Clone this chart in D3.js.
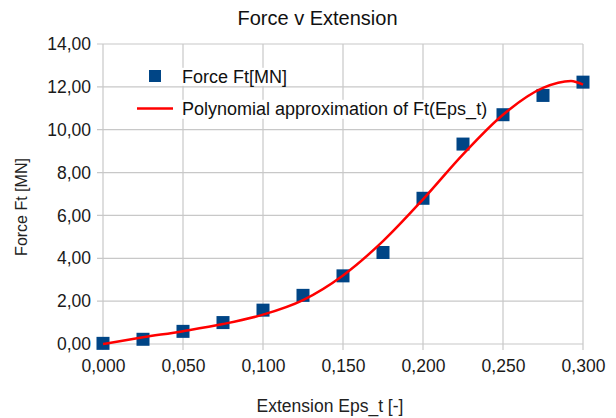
<!DOCTYPE html>
<html>
<head>
<meta charset="utf-8">
<script src="https://cdn.jsdelivr.net/npm/d3@7"></script>
<style>
  body { margin: 0; background: #fff; }
  svg { font-family: "Liberation Sans", Arial, sans-serif; }
</style>
</head>
<body>
<div id="chart"></div>
<script>
// measured points
const extension = [0, 0.025, 0.05, 0.075, 0.1, 0.125, 0.15, 0.175, 0.2, 0.225, 0.25, 0.275, 0.3];
const force = [0.03, 0.22, 0.59, 1.0, 1.58, 2.27, 3.18, 4.27, 6.8, 9.33, 10.7, 11.6, 12.22];

// polynomial trend line
const fitX = [0, 0.025, 0.05, 0.075, 0.1, 0.125, 0.15, 0.175, 0.2, 0.225, 0.25, 0.275, 0.2925, 0.3];
const fitY = [0, 0.31, 0.6, 0.93, 1.37, 2.05, 3.2, 4.8, 6.75, 8.85, 10.7, 11.95, 12.27, 12.1];

const xTicks = [0, 0.05, 0.1, 0.15, 0.2, 0.25, 0.3];
const yTicks = [0, 2, 4, 6, 8, 10, 12, 14];

const w = 616;
const h = 418;
const plotLeft = 103, plotRight = 583, plotTop = 44, plotBottom = 344;

const comma = (f) => (d) => d3.format(f)(d).replace(".", ",");

const xScale = d3.scaleLinear().domain([0, 0.3]).range([plotLeft, plotRight]);
const yScale = d3.scaleLinear().domain([0, 14]).range([plotBottom, plotTop]);

const svg = d3.select("#chart").append("svg").attr("width", w).attr("height", h);

// grid
svg.append("g")
  .selectAll("line")
  .data(yTicks)
  .enter()
  .append("line")
  .attr("x1", plotLeft - 6)
  .attr("x2", plotRight)
  .attr("y1", (d) => yScale(d))
  .attr("y2", (d) => yScale(d))
  .attr("stroke", "#c8c8c8")
  .attr("stroke-width", 1.2);

svg.append("g")
  .selectAll("line")
  .data(xTicks)
  .enter()
  .append("line")
  .attr("x1", (d) => xScale(d))
  .attr("x2", (d) => xScale(d))
  .attr("y1", plotTop)
  .attr("y2", plotBottom + 6)
  .attr("stroke", "#c8c8c8")
  .attr("stroke-width", 1.2);

// axes (labels only, lines drawn as grid)
const xAxis = d3.axisBottom(xScale).tickValues(xTicks).tickFormat(comma(".3f")).tickSize(0).tickPadding(16);
const yAxis = d3.axisLeft(yScale).tickValues(yTicks).tickFormat(comma(".2f")).tickSize(0).tickPadding(12);

const gx = svg.append("g").attr("transform", "translate(0," + plotBottom + ")").call(xAxis);
const gy = svg.append("g").attr("transform", "translate(" + plotLeft + ",0)").call(yAxis);
[gx, gy].forEach((g) => {
  g.select(".domain").remove();
  g.selectAll("text").attr("font-size", 17.5).attr("fill", "#1a1a1a").attr("font-family", "Liberation Sans, Arial, sans-serif");
});

// legend
const legend = svg.append("g");
const legendRows = [
  { label: "Force Ft[MN]", y: 76.5 },
  { label: "Polynomial approximation of Ft(Eps_t)", y: 108.5 },
];
legendRows.forEach((r) => {
  const t = legend.append("text")
    .attr("x", 182)
    .attr("y", r.y)
    .attr("dy", "0.35em")
    .attr("font-size", 18)
    .attr("fill", "#111")
    .text(r.label);
  const bb = t.node().getBBox();
  legend.insert("rect", "text")
    .attr("x", bb.x - 2)
    .attr("y", bb.y + 1)
    .attr("width", bb.width + 4)
    .attr("height", bb.height - 2)
    .attr("fill", "#fff");
});
legend.append("rect")
  .attr("x", 149).attr("y", 70).attr("width", 12).attr("height", 12)
  .attr("fill", "#004586");
legend.append("line")
  .attr("x1", 137).attr("x2", 173).attr("y1", 108.5).attr("y2", 108.5)
  .attr("stroke", "#ff0000").attr("stroke-width", 2.5);

// trend line
const line = d3.line()
  .x((d, i) => xScale(fitX[i]))
  .y((d) => yScale(d))
  .curve(d3.curveMonotoneX);

// markers
svg.append("g")
  .selectAll("rect")
  .data(force)
  .enter()
  .append("rect")
  .attr("x", (d, i) => xScale(extension[i]) - 6.5)
  .attr("y", (d) => yScale(d) - 6.5)
  .attr("width", 13)
  .attr("height", 13)
  .attr("fill", "#004586");

svg.append("path")
  .datum(fitY)
  .attr("d", line)
  .attr("fill", "none")
  .attr("stroke", "#ff0000")
  .attr("stroke-width", 2.5);

// titles
svg.append("text")
  .attr("x", 317.5)
  .attr("y", 25)
  .attr("text-anchor", "middle")
  .attr("font-size", 20)
  .attr("fill", "#111")
  .text("Force v Extension");

svg.append("text")
  .attr("x", 330)
  .attr("y", 412)
  .attr("text-anchor", "middle")
  .attr("font-size", 17.5)
  .attr("fill", "#222")
  .text("Extension Eps_t [-]");

svg.append("text")
  .attr("transform", "translate(27,207) rotate(-90)")
  .attr("text-anchor", "middle")
  .attr("font-size", 16)
  .attr("fill", "#222")
  .text("Force Ft [MN]");
</script>
</body>
</html>
